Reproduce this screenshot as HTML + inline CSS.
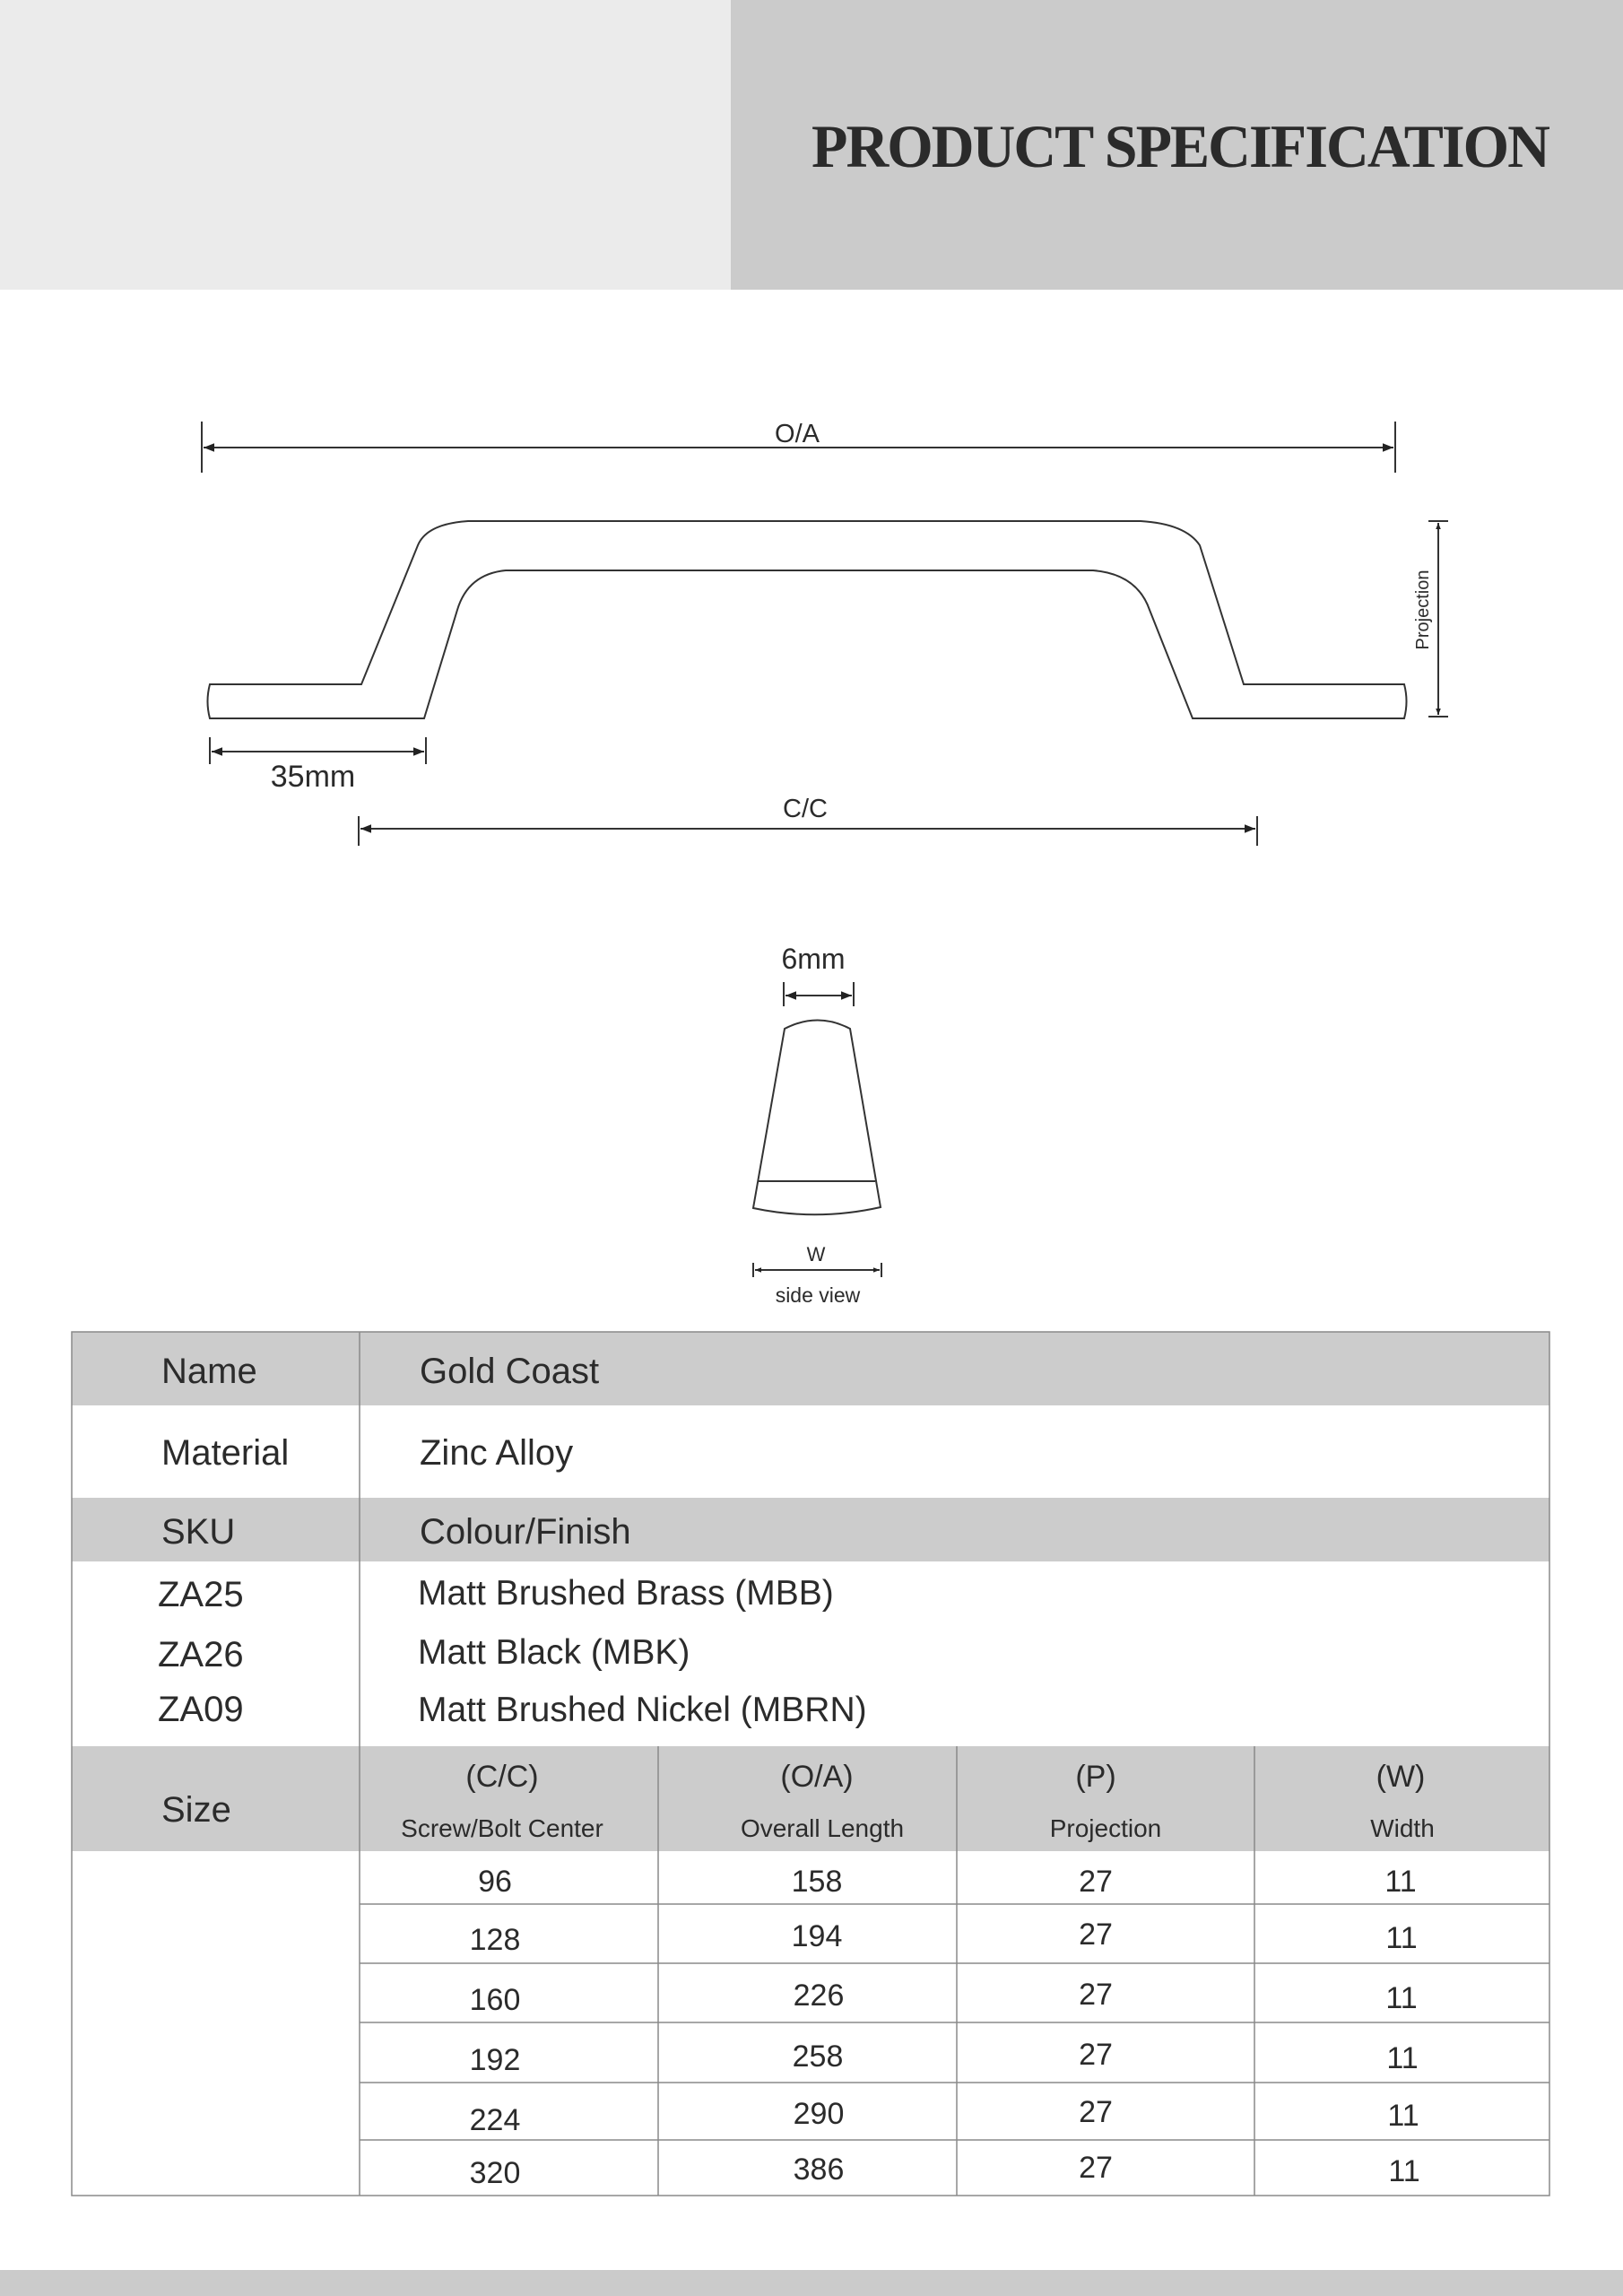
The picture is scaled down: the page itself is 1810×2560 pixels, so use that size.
<!DOCTYPE html>
<html><head><meta charset="utf-8"><style>
html,body{margin:0;padding:0;background:#fff}
svg{display:block}
text{font-family:"Liberation Sans",sans-serif;fill:#2b2b2b}
</style></head><body>
<svg width="1810" height="2560" viewBox="0 0 1810 2560" xmlns="http://www.w3.org/2000/svg">
<defs>
<marker id="ar" viewBox="0 0 10 10" refX="10" refY="5" markerWidth="7" markerHeight="7" orient="auto-start-reverse" markerUnits="userSpaceOnUse"><path d="M0,1 L10,5 L0,9 z" fill="#222"/></marker>
<marker id="ar2" viewBox="0 0 10 10" refX="10" refY="5" markerWidth="18" markerHeight="12" orient="auto-start-reverse" markerUnits="userSpaceOnUse"><path d="M0,1 L10,5 L0,9 z" fill="#222"/></marker>
</defs>
<rect x="0" y="0" width="815" height="323" fill="#ebebeb"/>
<rect x="815" y="0" width="995" height="323" fill="#cbcbcb"/>
<text x="1316" y="186" text-anchor="middle" style="font-family:'Liberation Serif',serif;font-weight:bold;font-size:68px;letter-spacing:-2px" fill="#2b2b2b" textLength="822" lengthAdjust="spacingAndGlyphs">PRODUCT SPECIFICATION</text>

<g stroke="#333" stroke-width="2" fill="none">
<line x1="225" y1="470" x2="225" y2="527"/>
<line x1="1556" y1="470" x2="1556" y2="527"/>
<line x1="227" y1="499" x2="1554" y2="499" marker-start="url(#ar2)" marker-end="url(#ar2)"/>
<path d="M403,763 L234,763 Q229,782 234,801 L473,801 L510,680 Q522,640 564,636 L1219,636 Q1268,640 1282,680 L1330,801 L1566,801 Q1571,782 1566,763 L1387,763 L1338,608 Q1322,584 1272,581 L522,581 Q476,584 466,608 Z"/>
<line x1="1593" y1="581" x2="1615" y2="581"/>
<line x1="1593" y1="799" x2="1615" y2="799"/>
<line x1="1604" y1="583" x2="1604" y2="797" marker-start="url(#ar)" marker-end="url(#ar)"/>
<line x1="234" y1="822" x2="234" y2="852"/>
<line x1="475" y1="822" x2="475" y2="852"/>
<line x1="236" y1="838" x2="473" y2="838" marker-start="url(#ar2)" marker-end="url(#ar2)"/>
<line x1="400" y1="910" x2="400" y2="943"/>
<line x1="1402" y1="910" x2="1402" y2="943"/>
<line x1="402" y1="924" x2="1400" y2="924" marker-start="url(#ar2)" marker-end="url(#ar2)"/>
<line x1="874" y1="1095" x2="874" y2="1122"/>
<line x1="952" y1="1095" x2="952" y2="1122"/>
<line x1="876" y1="1110" x2="950" y2="1110" marker-start="url(#ar2)" marker-end="url(#ar2)"/>
<path d="M875,1147 Q912,1128 948,1147 L982,1346 Q911,1362 840,1347 Z"/>
<line x1="846" y1="1317" x2="976" y2="1317"/>
<line x1="840" y1="1408" x2="840" y2="1424"/>
<line x1="983" y1="1408" x2="983" y2="1424"/>
<line x1="842" y1="1416" x2="981" y2="1416" marker-start="url(#ar)" marker-end="url(#ar)"/>
</g>
<text x="889" y="493" text-anchor="middle" font-size="29">O/A</text>
<text x="349" y="877" text-anchor="middle" font-size="34" fill="#444">35mm</text>
<text x="898" y="911" text-anchor="middle" font-size="29">C/C</text>
<text transform="translate(1593,680) rotate(-90)" text-anchor="middle" font-size="20">Projection</text>
<text x="907" y="1080" text-anchor="middle" font-size="32" fill="#444">6mm</text>
<text x="910" y="1406" text-anchor="middle" font-size="22">W</text>
<text x="912" y="1452" text-anchor="middle" font-size="23">side view</text>

<rect x="80" y="1485" width="1648" height="82" fill="#cccccc"/>
<rect x="80" y="1670" width="1648" height="71" fill="#cccccc"/>
<rect x="80" y="1947" width="1648" height="117" fill="#cccccc"/>
<g stroke="#8a8a8a" stroke-width="1.5" fill="none">
<rect x="80" y="1485" width="1648" height="963"/>
<line x1="401" y1="1485" x2="401" y2="2448"/>
<line x1="734" y1="1947" x2="734" y2="2448"/>
<line x1="1067" y1="1947" x2="1067" y2="2448"/>
<line x1="1399" y1="1947" x2="1399" y2="2448"/>
<line x1="401" y1="2123" x2="1728" y2="2123"/>
<line x1="401" y1="2189" x2="1728" y2="2189"/>
<line x1="401" y1="2255" x2="1728" y2="2255"/>
<line x1="401" y1="2322" x2="1728" y2="2322"/>
<line x1="401" y1="2386" x2="1728" y2="2386"/>
</g>
<g font-size="40">
<text x="180" y="1542">Name</text><text x="468" y="1542">Gold Coast</text>
<text x="180" y="1633">Material</text><text x="468" y="1633">Zinc Alloy</text>
<text x="180" y="1721">SKU</text><text x="468" y="1721">Colour/Finish</text>
<text x="176" y="1791">ZA25</text>
<text x="176" y="1858">ZA26</text>
<text x="176" y="1919">ZA09</text>
<text x="180" y="2031">Size</text>
</g>
<g font-size="39">
<text x="466" y="1789">Matt Brushed Brass (MBB)</text>
<text x="466" y="1855">Matt Black (MBK)</text>
<text x="466" y="1919">Matt Brushed Nickel (MBRN)</text>
</g>
<g font-size="34" text-anchor="middle">
<text x="560" y="1992">(C/C)</text><text x="911" y="1992">(O/A)</text><text x="1222" y="1992">(P)</text><text x="1562" y="1992">(W)</text>
</g>
<g font-size="28" text-anchor="middle">
<text x="560" y="2048">Screw/Bolt Center</text><text x="917" y="2048">Overall Length</text><text x="1233" y="2048">Projection</text><text x="1564" y="2048">Width</text>
</g>
<g font-size="34" text-anchor="middle">
<text x="552" y="2109">96</text><text x="911" y="2109">158</text><text x="1222" y="2109">27</text><text x="1562" y="2109">11</text>
<text x="552" y="2174">128</text><text x="911" y="2170">194</text><text x="1222" y="2168">27</text><text x="1563" y="2172">11</text>
<text x="552" y="2241">160</text><text x="913" y="2236">226</text><text x="1222" y="2235">27</text><text x="1563" y="2239">11</text>
<text x="552" y="2308">192</text><text x="912" y="2304">258</text><text x="1222" y="2302">27</text><text x="1564" y="2306">11</text>
<text x="552" y="2375">224</text><text x="913" y="2368">290</text><text x="1222" y="2366">27</text><text x="1565" y="2370">11</text>
<text x="552" y="2434">320</text><text x="913" y="2430">386</text><text x="1222" y="2428">27</text><text x="1566" y="2432">11</text>
</g>
<rect x="0" y="2531" width="1810" height="29" fill="#cbcbcb"/>
</svg>
</body></html>
